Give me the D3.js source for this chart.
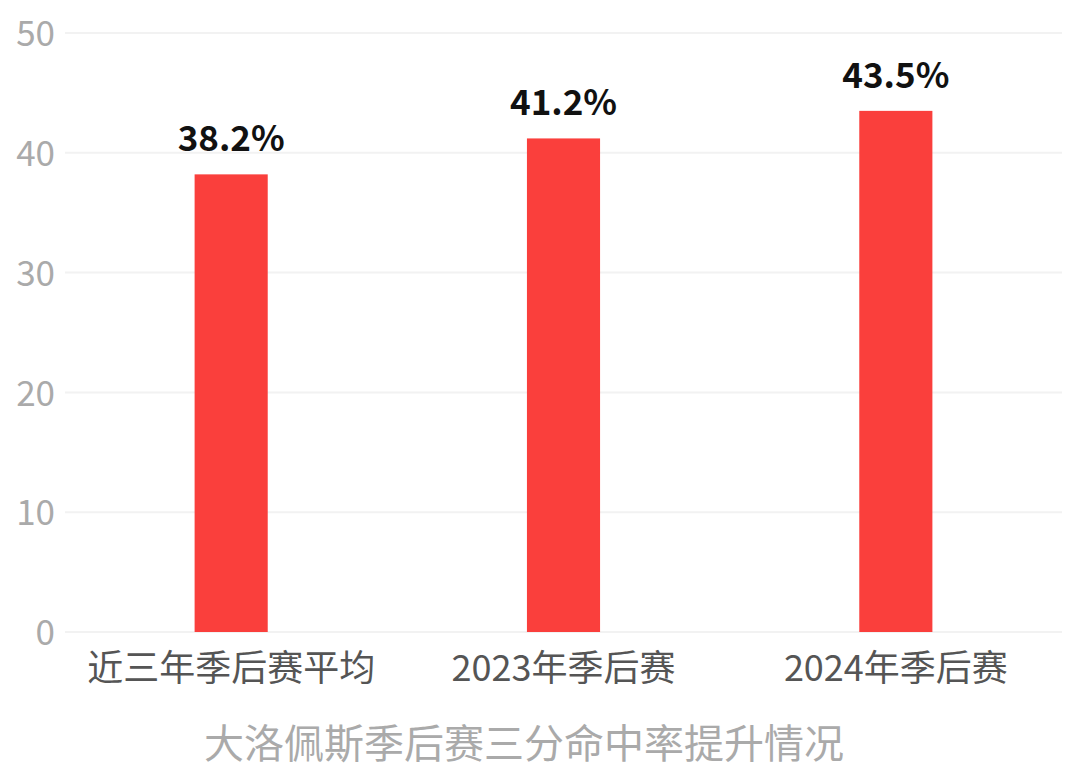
<!DOCTYPE html>
<html>
<head>
<meta charset="utf-8">
<script src="https://cdn.jsdelivr.net/npm/d3@7"></script>
<style>
  body { margin: 0; background: #fff; }
  text { font-family: "Noto Sans CJK SC", "Noto Sans", sans-serif; }
</style>
</head>
<body>
<div id="chart"></div>
<script>
var categories = ["近三年季后赛平均", "2023年季后赛", "2024年季后赛"];
var rates = [38.2, 41.2, 43.5];
var yTicks = [0, 10, 20, 30, 40, 50];
var chartTitle = "大洛佩斯季后赛三分命中率提升情况";

var svgWidth = 1080;
var svgHeight = 778;

var margin = { top: 33, right: 18, bottom: 146, left: 65 };

var width = svgWidth - margin.left - margin.right;
var height = svgHeight - margin.top - margin.bottom;

var svg = d3.select("#chart")
    .append("svg")
    .attr("width", svgWidth)
    .attr("height", svgHeight);

var chartGroup = svg.append("g")
    .attr("transform", `translate(${margin.left}, ${margin.top})`);

var xBandScale = d3.scaleBand()
    .domain(categories)
    .range([0, width])
    .padding(0);

var yLinearScale = d3.scaleLinear()
    .domain([0, 50])
    .range([height, 0]);

var barWidth = xBandScale.bandwidth() * 0.22;

// gridlines
chartGroup.append("g")
    .selectAll("line")
    .data(yTicks)
    .enter()
    .append("line")
    .attr("x1", 0)
    .attr("x2", width)
    .attr("y1", d => yLinearScale(d))
    .attr("y2", d => yLinearScale(d))
    .attr("stroke", "#f2f2f2")
    .attr("stroke-width", 2);

// y axis labels
var leftAxis = d3.axisLeft(yLinearScale).tickValues(yTicks).tickSize(0).tickPadding(10);
var yAxis = chartGroup.append("g").call(leftAxis);
yAxis.select(".domain").remove();
yAxis.selectAll("text")
    .attr("font-size", "35px")
    .attr("fill", "#aaaaaa")
    .attr("dy", "0.36em");

// x axis labels
var bottomAxis = d3.axisBottom(xBandScale).tickSize(0).tickPadding(23);
var xAxis = chartGroup.append("g")
    .attr("transform", `translate(0, ${height})`)
    .call(bottomAxis);
xAxis.select(".domain").remove();
xAxis.selectAll("text")
    .attr("font-size", "36px")
    .attr("fill", "#555")
    .attr("dy", "0.71em");

// bars
chartGroup.selectAll(".bar")
    .data(rates)
    .enter()
    .append("rect")
    .attr("class", "bar")
    .attr("x", (d, i) => xBandScale(categories[i]) + xBandScale.bandwidth() / 2 - barWidth / 2)
    .attr("y", d => yLinearScale(d))
    .attr("width", barWidth)
    .attr("height", d => height - yLinearScale(d))
    .attr("fill", "#fa3f3c");

// value labels
chartGroup.selectAll(".value")
    .data(rates)
    .enter()
    .append("text")
    .attr("class", "value")
    .attr("x", (d, i) => xBandScale(categories[i]) + xBandScale.bandwidth() / 2)
    .attr("y", d => yLinearScale(d) - 23)
    .attr("text-anchor", "middle")
    .attr("font-size", "35px")
    .attr("font-weight", 700)
    .attr("fill", "#111")
    .text(d => d.toFixed(1) + "%");

// title under the chart
svg.append("text")
    .attr("x", 524)
    .attr("y", 758)
    .attr("text-anchor", "middle")
    .attr("font-size", "40px")
    .attr("fill", "#aaaaaa")
    .text(chartTitle);
</script>
</body>
</html>
